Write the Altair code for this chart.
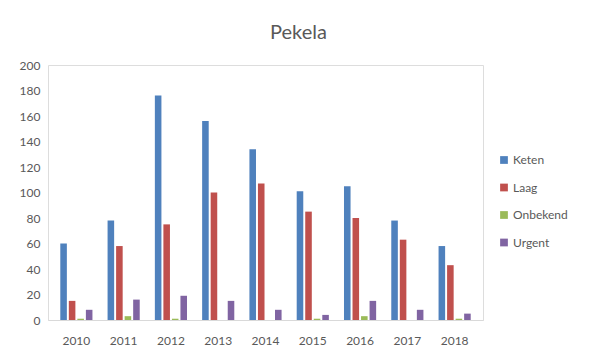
import altair as alt
import pandas as pd

years = ["2010", "2011", "2012", "2013", "2014", "2015", "2016", "2017", "2018"]
series = ["Keten", "Laag", "Onbekend", "Urgent"]
keten = [60, 78, 176, 156, 134, 101, 105, 78, 58]
laag = [15, 58, 75, 100, 107, 85, 80, 63, 43]
onbekend = [1, 3, 1, 0, 0, 1, 3, 0, 1]
urgent = [8, 16, 19, 15, 8, 4, 15, 8, 5]
colors = ["#4F81BD", "#C0504D", "#9BBB59", "#8064A2"]

rows = []
for s, vals in zip(series, [keten, laag, onbekend, urgent]):
    for y, v in zip(years, vals):
        rows.append({"Jaar": y, "Soort": s, "Aantal": v})
df = pd.DataFrame(rows)

font = "Lato"
grey = "#595959"

chart = alt.Chart(df).mark_bar().encode(
    x=alt.X("Jaar:N", sort=years, title=None,
            scale=alt.Scale(paddingInner=0.32, paddingOuter=0.26),
            axis=alt.Axis(labelAngle=0, ticks=False, domainColor="#D9D9D9",
                          labelColor=grey, labelFont=font, labelFontSize=12,
                          labelPadding=15)),
    xOffset=alt.XOffset("Soort:N", sort=series, scale=alt.Scale(paddingInner=0.23)),
    y=alt.Y("Aantal:Q", title=None,
            scale=alt.Scale(domain=[0, 200]),
            axis=alt.Axis(values=list(range(0, 201, 20)), grid=False, domain=False,
                          ticks=False, labelColor=grey, labelFont=font,
                          labelFontSize=12, labelPadding=8)),
    color=alt.Color("Soort:N", sort=series,
                    scale=alt.Scale(domain=series, range=colors),
                    legend=alt.Legend(title=None, orient="none", legendX=450, legendY=89,
                                      symbolType="square", symbolSize=60,
                                      symbolStrokeWidth=0, labelFont=font,
                                      labelFontSize=12, labelColor=grey,
                                      rowPadding=15.5, labelOffset=3)),
).properties(
    width=435, height=255,
    padding={"left": 11, "top": 15, "right": 5, "bottom": 5},
    title=alt.TitleParams("Pekela", font=font, fontSize=20, fontWeight="normal",
                          color=grey, offset=16, dx=33),
).configure_view(stroke=None).configure(background="white")

chart.save("out.html", embed_options={"renderer": "svg", "actions": False})
